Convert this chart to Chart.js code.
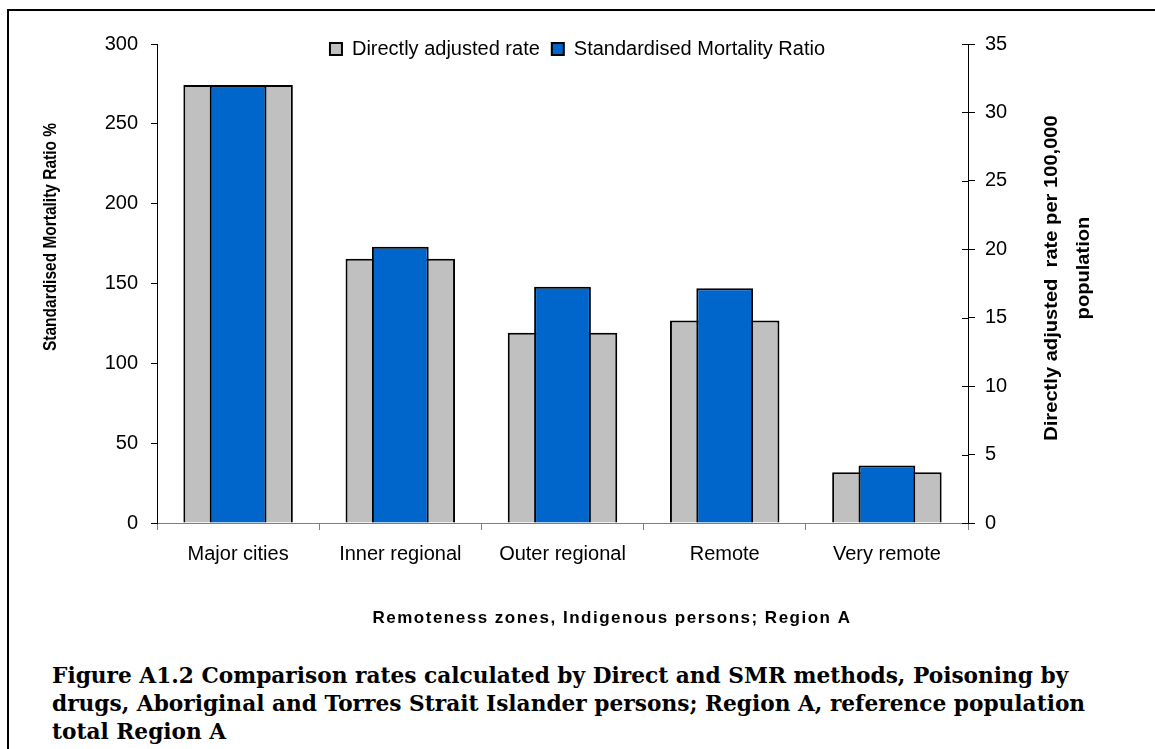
<!DOCTYPE html>
<html>
<head>
<meta charset="utf-8">
<script src="https://cdn.jsdelivr.net/npm/chart.js@4.4.0/dist/chart.umd.min.js"></script>
<style>
  html, body { margin: 0; padding: 0; background: #fff; }
  body { width: 1155px; height: 749px; position: relative; overflow: hidden; }
  #frame { position: absolute; left: 7px; top: 9px; width: 1400px; height: 1000px;
           border-left: 2px solid #000; border-top: 2px solid #000; }
  #wrap { position: absolute; left: 0; top: 0; width: 1155px; height: 640px; }
  #caption { position: absolute; left: 52px; top: 662px; color: #000;
             font: bold 21.7px "DejaVu Serif", serif; line-height: 28px; white-space: nowrap; }
</style>
</head>
<body>
<div id="frame"></div>
<div id="wrap"><canvas id="chart"></canvas></div>
<div id="caption">Figure A1.2 Comparison rates calculated by Direct and SMR methods, Poisoning by<br>drugs, Aboriginal and Torres Strait Islander persons; Region A, reference population<br>total Region A</div>
<script>
// data
const categories = ['Major cities', 'Inner regional', 'Outer regional', 'Remote', 'Very remote'];
const smrValues = [274, 173, 148, 147, 36];          // left axis, %
const directRates = [32.0, 19.3, 13.9, 14.8, 3.7];   // right axis, per 100,000
const leftTicks = [0, 50, 100, 150, 200, 250, 300];
const rightTicks = [0, 5, 10, 15, 20, 25, 30, 35];

Chart.defaults.font.family = '"Liberation Sans", Arial, sans-serif';
Chart.defaults.color = '#000';

// rotated bold text, squeezed/stretched along its length
function vertText(ctx, text, x, y, size, stretch) {
  ctx.save();
  ctx.font = 'bold ' + size + 'px "Liberation Sans", Arial, sans-serif';
  ctx.translate(x, y);
  ctx.rotate(-Math.PI / 2);
  ctx.scale(stretch, 1);
  ctx.fillText(text, 0, 0);
  ctx.restore();
}

// axis titles drawn by hand so they sit where the original has them
const axisTitles = {
  id: 'axisTitles',
  afterDraw(chart) {
    const ctx = chart.ctx;
    ctx.save();
    ctx.fillStyle = '#000';
    ctx.textAlign = 'center';
    ctx.textBaseline = 'middle';

    vertText(ctx, 'Standardised Mortality Ratio %', 51, 237, 18, 0.86);
    vertText(ctx, 'Directly adjusted  rate per 100,000', 1052, 278, 17.5, 1.15);
    vertText(ctx, 'population', 1084, 268, 17.5, 1.15);

    ctx.font = 'bold 17px "Liberation Sans", Arial, sans-serif';
    ctx.letterSpacing = '1.5px';
    ctx.fillText('Remoteness zones, Indigenous persons; Region A', 612, 618);
    ctx.restore();

    // right axis ticks cross the axis line
    const s = chart.scales.y2;
    ctx.save();
    ctx.strokeStyle = '#000';
    ctx.lineWidth = 1;
    s.ticks.forEach(t => {
      const y = Math.round(s.getPixelForValue(t.value)) + 0.5;
      ctx.beginPath();
      ctx.moveTo(s.left - 6, y);
      ctx.lineTo(s.left, y);
      ctx.stroke();
    });
    ctx.restore();
  },
  afterLayout(chart) {
    // drop the legend down onto the top line of the plot
    const lg = chart.legend;
    lg.top += 25;
    lg.bottom += 25;
  }
};

new Chart(document.getElementById('chart'), {
  type: 'bar',
  data: {
    labels: categories,
    datasets: [{
      label: 'Directly adjusted rate',
      data: directRates,
      yAxisID: 'y2',
      grouped: false,
      order: 2,
      backgroundColor: '#C0C0C0',
      borderColor: '#000',
      borderWidth: 2,
      categoryPercentage: 1,
      barPercentage: 0.675
    }, {
      label: 'Standardised Mortality Ratio',
      data: smrValues,
      yAxisID: 'y',
      grouped: false,
      order: 1,
      backgroundColor: '#0066CC',
      borderColor: '#000',
      borderWidth: 2,
      categoryPercentage: 1,
      barPercentage: 0.35
    }]
  },
  options: {
    responsive: true,
    maintainAspectRatio: false,
    animation: false,
    layout: { padding: { top: 2, left: 0, right: 0, bottom: 0 } },
    plugins: {
      tooltip: { enabled: false },
      legend: {
        position: 'top',
        align: 'center',
        labels: {
          boxWidth: 12,
          boxHeight: 12,
          padding: 12,
          font: { size: 20 },
          color: '#000',
          sort: (a, b) => a.datasetIndex - b.datasetIndex
        }
      }
    },
    scales: {
      x: {
        grid: { drawOnChartArea: false, offset: true, tickLength: 7, tickColor: '#808080' },
        border: { color: '#808080', width: 1 },
        ticks: { font: { size: 20 }, padding: 12, maxRotation: 0 },
        afterFit: s => { s.height = 117; }
      },
      y: {
        position: 'left',
        min: 0,
        max: 300,
        afterBuildTicks: s => { s.ticks = leftTicks.map(v => ({ value: v })); },
        grid: { drawOnChartArea: false, tickLength: 6, tickColor: '#000' },
        border: { color: '#000', width: 1 },
        ticks: { font: { size: 20 }, padding: 13 },
        afterFit: s => { s.width = 157; }
      },
      y2: {
        position: 'right',
        min: 0,
        max: 35,
        afterBuildTicks: s => { s.ticks = rightTicks.map(v => ({ value: v })); },
        grid: { drawOnChartArea: false, tickLength: 7, tickColor: '#000' },
        border: { color: '#000', width: 1 },
        ticks: { font: { size: 20 }, padding: 10 },
        afterFit: s => { s.width = 187; }
      }
    }
  },
  plugins: [axisTitles]
});
</script>
</body>
</html>
